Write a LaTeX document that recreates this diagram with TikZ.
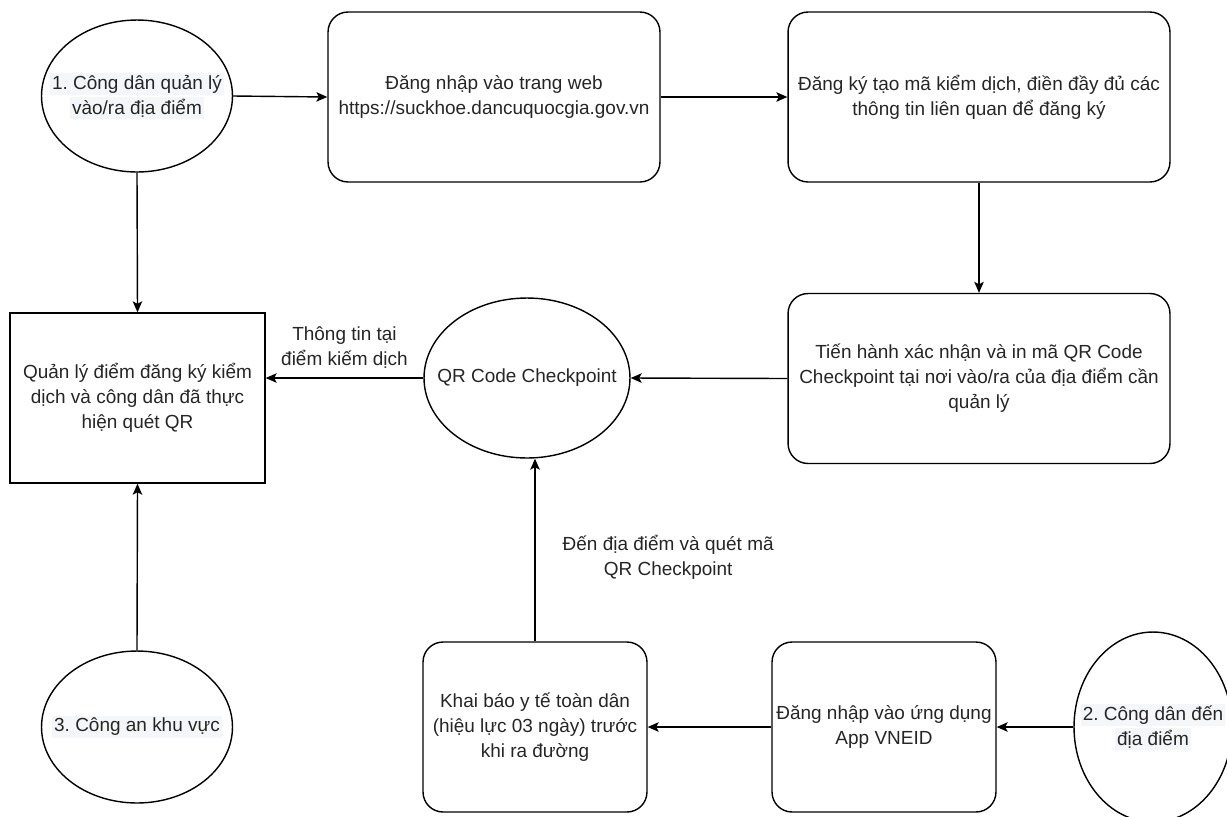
\documentclass[tikz,border=0pt]{standalone}
\usepackage{fontspec}
\setmainfont{Liberation Sans}
\usetikzlibrary{shapes.geometric,arrows.meta}
\definecolor{ink}{RGB}{38,38,38}
\definecolor{labelbg}{RGB}{245,246,249}
\newcommand{\hlbg}[1]{{\setlength{\fboxsep}{1pt}\colorbox{labelbg}{#1}}}
\frenchspacing

\begin{document}
\begin{tikzpicture}[x=0.02cm, y=-0.02cm,
  font=\fontsize{10.8}{14.2}\selectfont, text=ink,
  line width=0.8pt,
  flowbox/.style={draw, rounded corners=0.4cm, minimum width=#1, minimum height=3.4cm, align=center, inner sep=0pt},
  place/.style={draw, ellipse, inner sep=0pt},
  flow/.style={-{Stealth[length=0.22cm, width=0.19cm, inset=0.05cm]}},
  edgelabel/.style={inner sep=0pt, align=center}]
  \path[use as bounding box, fill=white] (0,0) rectangle (1227,816);

  \node[place, minimum width=3.82cm, minimum height=3.04cm,
    label={[align=center]center:{\hlbg{1. Công dân quản lý}\\\hlbg{vào/ra địa điểm}}}] (manager) at (137,96) {};
  \node[flowbox=6.64cm] (web) at (494,97) {Đăng nhập vào trang web\\https://suckhoe.dancuquocgia.gov.vn};
  \node[flowbox=7.64cm] (reg) at (979,97) {Đăng ký tạo mã kiểm dịch, điền đầy đủ các\\thông tin liên quan để đăng ký};
  \node[flowbox=7.64cm] (confirm) at (979,378.5) {Tiến hành xác nhận và in mã QR Code\\Checkpoint tại nơi vào/ra của địa điểm cần\\quản lý};
  \node[place, minimum width=4.12cm, minimum height=3.2cm,
    label={center:QR Code Checkpoint}] (qr) at (527,378) {};
  \node[draw, minimum width=5.1cm, minimum height=3.4cm, align=center] (tally) at (137.5,398) {Quản lý điểm đăng ký kiểm\\dịch và công dân đã thực\\hiện quét QR};
  \node[place, minimum width=3.82cm, minimum height=3.04cm,
    label={[align=center]center:{\hlbg{3. Công an khu vực}}}] (police) at (137,727) {};
  \node[flowbox=4.48cm] (khai) at (535,727) {Khai báo y tế toàn dân\\(hiệu lực 03 ngày) trước\\khi ra đường};
  \node[flowbox=4.48cm] (app) at (884,727) {Đăng nhập vào ứng dụng\\App VNEID};
  \node[place, minimum width=3.16cm, minimum height=3.8cm,
    label={[align=center]center:{\hlbg{2. Công dân đến}\\\hlbg{địa điểm}}}] (arrive) at (1153,727) {};

  \draw[flow] (manager.east) -- (web.west);
  \draw[flow] (web.east) -- (reg.west);
  \draw[flow] (reg.south) -- (confirm.north);
  \draw[flow] (confirm.west) -- (qr.east);
  \draw[flow] (qr.west) -- (qr.west -| tally.east)
    node[edgelabel, midway, above=0.18cm] (infolabel) {Thông tin tại\\điểm kiếm dịch};
  \draw[flow] (manager.south) -- (tally.north);
  \draw[flow] (police.north) -- (tally.south);
  \draw[flow] (arrive.west) -- (app.east);
  \draw[flow] (app.west) -- (khai.east);
  \draw[flow] (khai.north) -- (khai.north |- qr.south)
    node[edgelabel, midway, right=0.54cm, yshift=-0.14cm] (scanlabel) {Đến địa điểm và quét mã\\QR Checkpoint};
\end{tikzpicture}
\end{document}
